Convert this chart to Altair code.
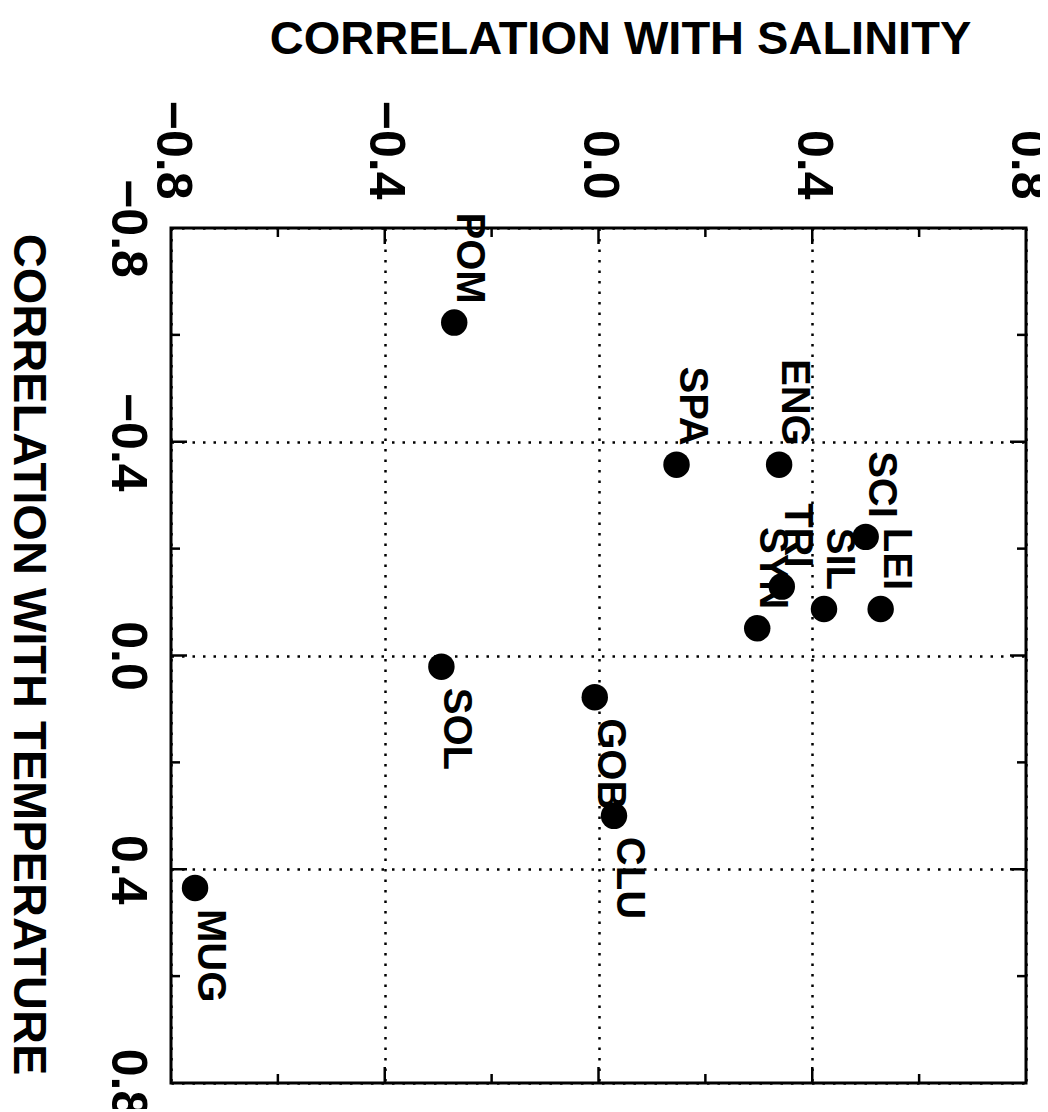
import altair as alt
import pandas as pd

# ---- data ----
species = ["POM", "SPA", "ENG", "SCI", "LEI", "SIL", "TRI", "SYN", "SOL", "GOB", "CLU", "MUG"]
salinity = [-0.270, 0.146, 0.338, 0.500, 0.528, 0.422, 0.343, 0.297, -0.294, -0.007, 0.029, -0.755]
temperature = [-0.623, -0.357, -0.357, -0.222, -0.087, -0.087, -0.129, -0.051, 0.021, 0.078, 0.300, 0.435]
labels_above = ["POM", "SPA", "ENG", "SCI", "LEI", "SIL", "TRI", "SYN"]

axis_values = [-0.8, -0.4, 0.0, 0.4, 0.8]
major_ticks = [-0.4, 0.0, 0.4]
minor_ticks = [-0.6, -0.2, 0.2, 0.6]

W, H = 855, 855
FONT = "Liberation Sans"

df = pd.DataFrame({"species": species, "sal": salinity, "temp": temperature})
major_df = pd.DataFrame({"v": major_ticks})
minor_df = pd.DataFrame({"v": minor_ticks})

xscale = alt.Scale(domain=[-0.8, 0.8], nice=False, zero=False)
yscale = alt.Scale(domain=[-0.8, 0.8], nice=False, zero=False, reverse=True)

common_axis = dict(
    values=axis_values, format=".1f", labelAngle=90, labelFont=FONT,
    labelFontSize=50, labelFontWeight="bold", labelColor="black",
    labelFlush=False, labelOverlap=False, ticks=False, tickSize=0,
    domain=False, grid=True, gridColor="black", gridDash=[2.5, 8],
    gridWidth=2.5, gridOpacity=1, titleFont=FONT, titleFontSize=47,
    titleFontWeight="bold", titleColor="black", titleAlign="center",
    titleBaseline="alphabetic",
)

xaxis = alt.Axis(
    orient="top", labelAlign="right", labelBaseline="middle", labelPadding=29,
    title="CORRELATION WITH SALINITY", titleAngle=0, titleX=449, titleY=-175,
    **common_axis,
)
yaxis = alt.Axis(
    orient="left", labelAlign="center", labelBaseline="top", labelPadding=20,
    title="CORRELATION WITH TEMPERATURE", titleAngle=90, titleX=-158, titleY=426,
    **common_axis,
)

X = alt.X("sal:Q", scale=xscale, axis=xaxis)
Y = alt.Y("temp:Q", scale=yscale, axis=yaxis)

points = alt.Chart(df).mark_circle(size=700, color="black", opacity=1).encode(x=X, y=Y)

text_style = dict(angle=90, font=FONT, fontSize=40, fontWeight="bold",
                  color="black", baseline="alphabetic", dy=-3)

above = alt.Chart(df).transform_filter(
    alt.FieldOneOfPredicate(field="species", oneOf=labels_above)
).mark_text(align="right", dx=-19, **text_style).encode(x=X, y=Y, text="species:N")

below = alt.Chart(df).transform_filter(
    {"not": alt.FieldOneOfPredicate(field="species", oneOf=labels_above)}
).mark_text(align="left", dx=21, **text_style).encode(x=X, y=Y, text="species:N")

TX = alt.X("v:Q", scale=xscale, axis=xaxis)
TY = alt.Y("v:Q", scale=yscale, axis=yaxis)
tick_style = dict(color="black", strokeWidth=2.5)


def xticks(data, length):
    top = alt.Chart(data).mark_rule(**tick_style).encode(
        x=TX, y=alt.value(0), y2=alt.value(length))
    bottom = alt.Chart(data).mark_rule(**tick_style).encode(
        x=TX, y=alt.value(H), y2=alt.value(H - length))
    return [top, bottom]


def yticks(data, length):
    left = alt.Chart(data).mark_rule(**tick_style).encode(
        y=TY, x=alt.value(0), x2=alt.value(length))
    right = alt.Chart(data).mark_rule(**tick_style).encode(
        y=TY, x=alt.value(W), x2=alt.value(W - length))
    return [left, right]


layers = [points] + xticks(major_df, 16) + xticks(minor_df, 9) \
    + yticks(major_df, 16) + yticks(minor_df, 9) + [above, below]

chart = alt.layer(*layers).properties(
    width=W, height=H,
    background="white",
    autosize=alt.AutoSizeParams(type="none"),
    padding={"left": 163, "top": 220, "right": 14, "bottom": 26},
).configure_view(stroke="black", strokeWidth=3)

chart.save("out.html", embed_options={"renderer": "svg", "actions": False})
